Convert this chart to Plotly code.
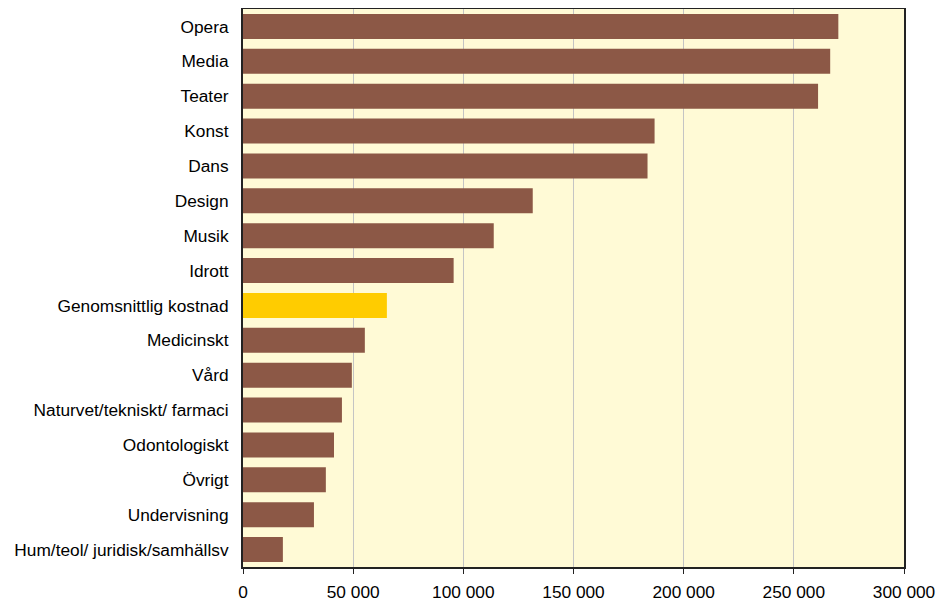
import plotly.graph_objects as go

categories = ["Opera", "Media", "Teater", "Konst", "Dans", "Design", "Musik", "Idrott",
              "Genomsnittlig kostnad", "Medicinskt", "Vård", "Naturvet/tekniskt/ farmaci",
              "Odontologiskt", "Övrigt", "Undervisning", "Hum/teol/ juridisk/samhällsv"]
values = [270200, 266500, 261000, 186800, 183600, 131500, 113800, 95600,
          65300, 55300, 49400, 44900, 41300, 37600, 32200, 18100]
highlight = "Genomsnittlig kostnad"
tick_vals = [0, 50000, 100000, 150000, 200000, 250000, 300000]

colors = ["#FFCC00" if c == highlight else "#8C5846" for c in categories]

fig = go.Figure(go.Bar(
    x=values, y=categories, orientation="h",
    marker=dict(color=colors, line=dict(width=0)),
))

fig.update_layout(
    width=936, height=595,
    margin=dict(l=235, r=40, t=1, b=36, autoexpand=False),
    paper_bgcolor="white",
    plot_bgcolor="#FFFAD6",
    bargap=0.28,
    separators=", ",
    showlegend=False,
    font=dict(family="Liberation Sans, Arial, sans-serif", size=17.3, color="black"),
)
fig.update_xaxes(
    range=[0, 300000], tickvals=tick_vals, tickformat=",d",
    showgrid=True, gridcolor="#C4C4C4", gridwidth=1,
    showline=True, linecolor="#222222", linewidth=2, mirror=True,
    ticks="outside", ticklen=5, tickcolor="#222222",
    ticklabelstandoff=3,
    zeroline=False, fixedrange=True, automargin=False,
)
fig.update_yaxes(
    categoryorder="array", categoryarray=categories, autorange="reversed",
    showline=True, linecolor="#222222", linewidth=2, mirror=True,
    ticks="", ticklabelstandoff=9, showgrid=False, automargin=False,
)

fig.write_html("out.html")
